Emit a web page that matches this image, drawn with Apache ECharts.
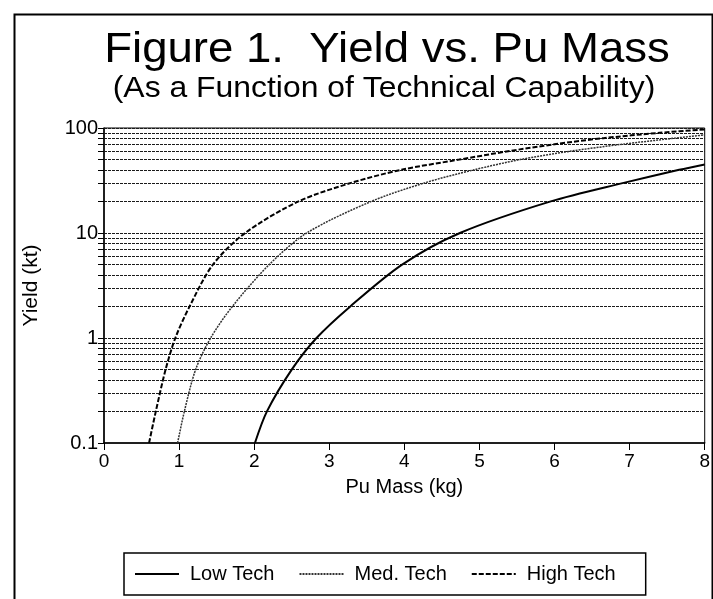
<!DOCTYPE html>
<html>
<head>
<meta charset="utf-8">
<script src="https://cdn.jsdelivr.net/npm/echarts@6/dist/echarts.min.js"></script>
<style>
  html, body { margin: 0; padding: 0; background: #fff; }
  #chart { width: 713px; height: 599px; }
</style>
</head>
<body>
<div id="chart"></div>
<script>
// values: [Pu mass kg, yield kt]
const lowTech = [[2.01,0.1],[2.17,0.2],[2.5,0.5],[2.83,1],[3.28,2],[3.97,5],[4.74,10],[5.95,20],[6.92,30],[7.66,40],[8,45]];
const medTech = [[0.98,0.1],[1.07,0.2],[1.22,0.5],[1.42,1],[1.71,2],[2.2,5],[2.7,10],[3.56,20],[4.27,30],[4.93,40],[5.54,50],[6.2,60],[6.9,70],[7.6,80],[8,86]];
const highTech = [[0.6,0.1],[0.69,0.2],[0.82,0.5],[0.95,1],[1.14,2],[1.45,5],[1.88,10],[2.59,20],[3.29,30],[3.96,40],[4.73,50],[5.38,60],[6.0,70],[6.65,80],[7.4,90],[8,97]];
// horizontal rules at every 1..9 x 10^n
const gridValues = [0.2,0.3,0.4,0.5,0.6,0.7,0.8,0.9,1,2,3,4,5,6,7,8,9,10,20,30,40,50,60,70,80,90,100];
const tickValues = [0.1].concat(gridValues);

const font = '"Liberation Sans", Arial, sans-serif';
let chart = echarts.init(document.getElementById('chart'));

chart.setOption({
  animation: false,
  backgroundColor: '#fff',
  graphic: [
    { type: 'rect', left: 12, top: 12,
      shape: { width: 698, height: 600 },
      style: { fill: 'none', stroke: '#000', lineWidth: 2 } },
    { type: 'text', x: 387, y: 50, scaleX: 1.085,
      style: { text: 'Figure 1.  Yield vs. Pu Mass', fontFamily: font, fontSize: 42,
        fill: '#000', align: 'center', verticalAlign: 'middle' } },
    { type: 'text', x: 384, y: 89, scaleX: 1.1,
      style: { text: '(As a Function of Technical Capability)', fontFamily: font, fontSize: 29,
        fill: '#000', align: 'center', verticalAlign: 'middle' } }
  ],
  legend: {
    left: 124, top: 553,
    padding: [11, 30, 11, 10],
    borderColor: '#000', borderWidth: 1.5,
    itemWidth: 44, itemHeight: 14, itemGap: 24,
    itemStyle: { opacity: 0 },
    textStyle: { fontFamily: font, fontSize: 20, color: '#000', padding: [0, 0, 0, 6] },
    data: ['Low Tech', 'Med. Tech', 'High Tech']
  },
  grid: { left: 104, right: 4, top: 128, bottom: 156, show: true, borderColor: '#000', borderWidth: 1 },
  xAxis: {
    type: 'value', min: 0, max: 8, interval: 1,
    name: 'Pu Mass (kg)', nameLocation: 'middle', nameGap: 34,
    nameTextStyle: { fontFamily: font, fontSize: 20, color: '#000' },
    axisLine: { lineStyle: { color: '#000', width: 1.5 } },
    axisTick: { show: true, length: 7, lineStyle: { color: '#000' } },
    axisLabel: { fontFamily: font, fontSize: 19, color: '#000', margin: 9 },
    splitLine: { show: false }
  },
  yAxis: {
    type: 'log', logBase: 10, min: 0.1, max: 100,
    name: 'Yield (kt)', nameLocation: 'middle', nameGap: 62,
    nameTextStyle: { fontFamily: font, fontSize: 21, color: '#000' },
    axisLine: { show: true, lineStyle: { color: '#000', width: 1.5 } },
    axisTick: { show: true, length: 6, customValues: tickValues, lineStyle: { color: '#000' } },
    axisLabel: { fontFamily: font, fontSize: 20, color: '#000', margin: 6,
      formatter: v => String(v) },
    splitLine: { show: false }
  },
  series: [
    {
      name: 'Low Tech', type: 'line', data: lowTech, smooth: 0.3,
      symbol: 'none', color: '#000',
      lineStyle: { color: '#000', width: 2, type: 'solid' },
      markLine: {
        silent: true, symbol: 'none', label: { show: false },
        lineStyle: { color: '#1a1a1a', width: 1.2, type: [3, 1] },
        data: gridValues.map(v => ({ yAxis: v }))
      },
      z: 5
    },
    {
      name: 'Med. Tech', type: 'line', data: medTech, smooth: 0.3,
      symbol: 'none', color: '#333',
      lineStyle: { color: '#333', width: 1.5, type: [2, 1] }, z: 5
    },
    {
      name: 'High Tech', type: 'line', data: highTech, smooth: 0.3,
      symbol: 'none', color: '#000',
      lineStyle: { color: '#000', width: 2, type: [5, 2] }, z: 5
    }
  ]
});
</script>
</body>
</html>
